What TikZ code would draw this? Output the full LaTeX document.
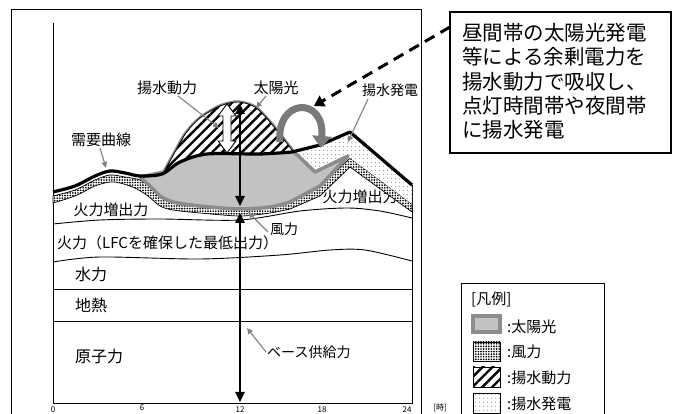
\documentclass[tikz,border=0pt]{standalone}
\usepackage{fontspec}
\setmainfont{Noto Sans CJK JP}
\usetikzlibrary{arrows.meta,patterns.meta}
\definecolor{solarfill}{gray}{0.76}
\definecolor{solarline}{gray}{0.55}
\definecolor{arrowgray}{gray}{0.48}
\definecolor{leadgray}{gray}{0.5}
\definecolor{pumpdot}{gray}{0.5}
\tikzset{
  lab/.style={inner sep=0pt, font=\fontsize{15}{18}\selectfont},
  smalllab/.style={inner sep=0pt, font=\fontsize{14}{17}\selectfont},
  ticklab/.style={inner sep=0pt, anchor=north, font=\fontsize{8}{9}\selectfont},
  leader/.style={draw=leadgray, line width=1.1pt, -{Triangle[width=5.5pt,length=6pt]}, leadgray},
  thinline/.style={line width=0.9pt},
  bigarrow/.style={line width=2.4pt, {Triangle[width=9pt,length=10pt]}-{Triangle[width=9pt,length=10pt]}},
  windpat/.style={preaction={fill=white}, pattern={Dots[distance=2.6pt,radius=0.95pt]}, pattern color=black},
  hatchpat/.style={preaction={fill=white}, pattern={Lines[angle=45,distance=7pt,line width=2.4pt]}, pattern color=black},
  pumppat/.style={preaction={fill=white}, pattern={Dots[distance=4pt,radius=0.6pt]}, pattern color=pumpdot},
}
\begin{document}
\begin{tikzpicture}[x=1pt,y=-1pt]
\useasboundingbox (0,0) rectangle (673,414);
\clip (0,0) rectangle (673,414);

% outer frame and axes
\draw[line width=1pt] (11,10) rectangle (421,440);
\draw[line width=0.9pt] (53,23) -- (53,403) -- (412,403) -- (412,185);

% band boundaries
\draw[thinline] plot[smooth] coordinates {(53,224) (100,220) (160,219) (240,220) (300,211) (347,208) (380,211) (412,218)};
\draw[thinline] plot[smooth] coordinates {(53,262) (100,257) (200,259) (280,255) (330,250) (365,250) (412,261)};
\draw[thinline] (53,289) -- (412,289);
\draw[thinline] (53,321) -- (412,321);

% labels of the bands
\node[lab] (zoL) at (111,210) {火力増出力};
\node[lab] (zoR) at (360,197) {火力増出力};
\node[lab, anchor=west] (lfc) at (57,243) {火力（LFCを確保した最低出力）};
\node[lab, anchor=west, font=\fontsize{16}{18}\selectfont] (hyd) at (75,274) {水力};
\node[lab, anchor=west, font=\fontsize{16}{18}\selectfont] (geo) at (75,305) {地熱};
\node[lab, anchor=west, font=\fontsize{16}{18}\selectfont] (nuc) at (75,356) {原子力};

% wind band
\draw[line width=0.7pt, windpat] plot[smooth] coordinates {(53,196) (75,190) (95,180) (110,175) (125,177) (140,180) (150,187) (160,197) (173,203) (200,207) (240,209) (270,207) (290,202) (320,186)}
  -- (350,158) -- (412,204) -- (412,212) -- (350,167) -- (320,196)
  -- plot[smooth] coordinates {(290,209) (270,213) (240,216) (200,213) (173,210) (160,206) (148,196) (135,188) (120,183) (110,182) (95,186) (75,196) (53,203)} -- cycle;

% pumped generation region
\path[pumppat] (292,151) -- (320,145) -- (350,132) -- (412,185) -- (412,204) -- (350,158) -- (315,172) -- cycle;

% solar region
\def\solarpath{(140,177) -- (164,172) -- plot[smooth] coordinates {(164,172) (175,152) (186,133) (200,118) (220,106) (238,102) (255,107) (270,122) (282,137) (292,150)} -- (315,172) -- (348,156) -- (320,186) -- plot[smooth] coordinates {(290,202) (270,207) (240,209) (200,206) (173,202) (160,196)} -- (150,186) -- cycle}
\fill[solarfill] \solarpath;
\draw[solarline, line width=3.5pt, line join=round] \solarpath;

% pumping power (hatched)
\draw[line width=0.8pt, hatchpat] plot[smooth] coordinates {(164,172) (175,152) (186,133) (200,118) (220,106) (238,102) (255,107) (270,122) (282,137) (292,150)}
  -- plot[smooth] coordinates {(292,152) (260,154) (207,154) (180,162) (164,173)} -- cycle;

% demand curve
\draw[line width=3.2pt, line join=round] plot[smooth] coordinates {(53,192) (75,186) (95,176) (110,171) (125,173) (140,176) (162,174) (180,162) (207,154) (260,154) (292,152)} -- (320,145) -- (350,132) -- (412,185);

% vertical arrows
\coordinate (topA) at (240,104);
\coordinate (midA) at (240,206);
\coordinate (midB) at (240,213);
\coordinate (botB) at (240,402);
\draw[bigarrow] (midA) -- (topA);
\draw[bigarrow] (midB) -- (botB);

% white double arrow
\draw[fill=white, line width=0.9pt, line join=miter] (227,104) -- (236,116) -- (231,116) -- (231,141) -- (236,141) -- (227,153) -- (218,141) -- (223,141) -- (223,116) -- (218,116) -- cycle;

% curved gray arrow
\coordinate (cTail) at (280,142);
\coordinate (cTip) at (321,148);
\draw[arrowgray, line width=7pt, -{Triangle[width=19pt,length=12pt]}] (cTail) .. controls (276,98) and (325,96) .. (cTip);

% callout box and dashed arrow
\draw[line width=2.6pt] (450,12) rectangle (671,153);
\node[inner sep=0pt, anchor=north west, align=left, font=\fontsize{20.5}{24.3}\selectfont] (call) at (462,23) {昼間帯の太陽光発電\\等による余剰電力を\\揚水動力で吸収し、\\点灯時間帯や夜間帯\\に揚水発電};
\coordinate (dStart) at (450,27);
\coordinate (dTip) at (314,106);
\draw[line width=3pt, dash pattern=on 11pt off 7pt, -{Triangle[width=12pt,length=10pt]}] (dStart) -- (dTip);

% labels with leaders
\node[lab] (ldemand) at (101,140) {需要曲線};
\draw[leader] (100,148) -- (106,168);
\node[lab] (lpump) at (167,88) {揚水動力};
\draw[leader] (178,96) -- (219,128);
\node[lab] (lsolar) at (276,88) {太陽光};
\draw[leader] (266,96) -- (256,108);
\node[smalllab] (lgen) at (390,90) {揚水発電};
\draw[leader] (368,99) -- (348,142);
\node[smalllab, anchor=west] (lwind) at (270,229) {風力};
\draw[leader] (268,232) -- (248,212);
\node[smalllab, anchor=west] (lbase) at (267,352) {ベース供給力};
\draw[leader] (266,352) -- (247,328);

% tick labels
\node[ticklab] (t0) at (53,406) {0};
\node[ticklab] (t6) at (142,404) {6};
\node[ticklab] (t12) at (240,406) {12};
\node[ticklab] (t18) at (322,406) {18};
\node[ticklab] (t24) at (407,406) {24};
\node[ticklab] (tu) at (440,404) {[時]};

% legend
\draw[line width=0.9pt] (461,283) rectangle (604,440);
\node[lab, anchor=west] (lgtitle) at (471,300) {[凡例]};
\fill[solarfill] (473,316) rectangle (500,332);
\draw[solarline, line width=3.5pt] (473,316) rectangle (500,332);
\node[lab, anchor=west] (lg1) at (507,327) {:太陽光};
\draw[line width=0.9pt, windpat] (473,342) rectangle (500,361);
\node[lab, anchor=west] (lg2) at (507,352) {:風力};
\draw[line width=0.9pt, hatchpat] (473,367) rectangle (500,387);
\node[lab, anchor=west] (lg3) at (507,378) {:揚水動力};
\draw[line width=0.9pt, pumppat] (473,393) rectangle (500,413);
\node[lab, anchor=west] (lg4) at (507,404) {:揚水発電};
\end{tikzpicture}
\end{document}
